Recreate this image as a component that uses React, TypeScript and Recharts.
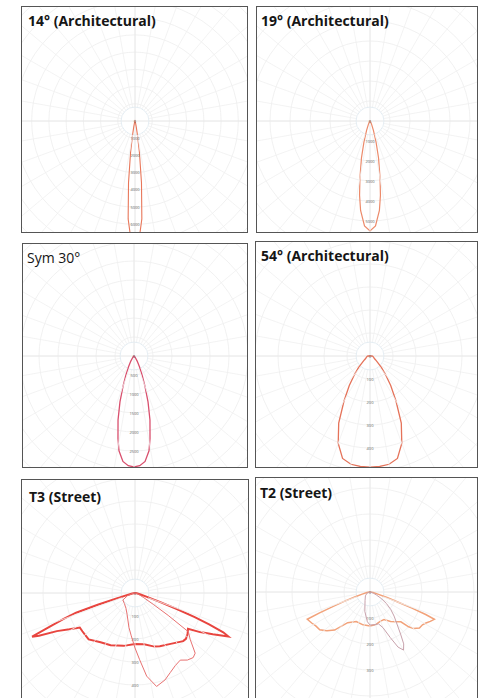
import React from 'react';
import { RadarChart, Radar, PolarGrid, PolarAngleAxis, PolarRadiusAxis } from 'recharts';

// gamma in degrees: 0 = straight down, negative = left, positive = right; values in cd/klm

const beam14Angles = [-90, -30, -20, -15, -12, -10, -8, -6, -4, -2, 0, 2, 4, 6, 8, 10, 12, 15, 20, 30, 90];
const beam14Values = [0, 0, 30, 115, 350, 815, 1860, 3600, 5700, 6860, 7270, 6860, 5700, 3600, 1860, 815, 350, 115, 30, 0, 0];
const beam14Ticks = [0, 1000, 2000, 3000, 4000, 5000, 6000, 7000, 8000, 9000];

const beam19Angles = [-90, -40, -30, -25, -20, -16, -13, -10, -8, -6, -3, 0, 3, 6, 8, 10, 13, 16, 20, 25, 30, 40, 90];
const beam19Values = [0, 0, 75, 200, 500, 1100, 1900, 2900, 3750, 4500, 5250, 5500, 5250, 4500, 3750, 2900, 1900, 1100, 500, 200, 75, 0, 0];
const beam19Ticks = [0, 1000, 2000, 3000, 4000, 5000, 6000, 7000, 8000];

const sym30Angles = [-90, -60, -50, -40, -32, -27, -23, -20, -17, -14, -11, -9, -6, -3, 0, 3, 6, 9, 11, 14, 17, 20, 23, 27, 32, 40, 50, 60, 90];
const sym30Values = [0, 0, 13, 53, 158, 316, 552, 842, 1263, 1737, 2210, 2525, 2790, 2890, 2920, 2890, 2790, 2525, 2210, 1737, 1263, 842, 552, 316, 158, 53, 13, 0, 0];
const sym30Ticks = [0, 500, 1000, 1500, 2000, 2500, 3000, 3500, 4000];

const beam54Angles = [-120, -100, -90, -80, -70, -60, -55, -50, -45, -40, -35, -30, -25, -20, -15, -10, -5, 0, 5, 10, 15, 20, 25, 30, 35, 40, 45, 50, 55, 60, 70, 80, 90, 100, 120];
const beam54Values = [0, 4, 9, 13, 17, 22, 30, 43, 70, 104, 157, 226, 322, 404, 461, 478, 482, 483, 482, 478, 461, 404, 322, 226, 157, 104, 70, 43, 30, 22, 17, 13, 9, 4, 0];
const beam54Ticks = [0, 100, 200, 300, 400, 500, 600, 700];

// T3 street: C0-C180 plane (thick) and C90-C270 plane (thin)
const t3MainAngles = [-90, -80, -76, -73.5, -72.5, -71.5, -70, -68.5, -67, -66, -64, -61, -58, -54, -50, -45, -35, -25, -12, 0, 10, 20, 25, 35, 45, 48, 52, 56, 59, 62, 65, 66, 67, 68, 69, 70, 72, 75, 80, 90];
const t3MainValues = [0, 12, 30, 80, 170, 270, 330, 396, 486, 457, 378, 326, 283, 283, 283, 285, 261, 251, 235, 222, 226, 248, 255, 270, 296, 298, 290, 278, 330, 383, 448, 420, 350, 280, 200, 120, 55, 25, 8, 0];
const t3CrossAngles = [-90, -80, -70, -60, -45, -30, -20, -10, -5, 0, 4, 8, 13, 19, 24, 29, 34, 38, 42, 45, 50, 54, 56, 58, 62, 70, 80, 90];
const t3CrossValues = [0, 9, 35, 61, 65, 78, 100, 152, 187, 239, 291, 365, 417, 400, 378, 361, 352, 370, 378, 370, 313, 287, 174, 96, 43, 17, 4, 0];
const t3Ticks = [0, 100, 200, 300, 400, 500, 600, 700];

// T2 street
const t2MainAngles = [-90, -80, -75, -72, -70, -68.5, -67.5, -66.5, -62, -58, -53, -48, -43, -36, -25, -12, 0, 10, 14, 20, 27, 35, 42, 46, 48, 50, 54, 58, 61, 64, 67, 68, 69, 70, 72, 75, 80, 90];
const t2MainValues = [0, 12, 31, 62, 108, 154, 212, 263, 254, 246, 242, 223, 200, 146, 125, 129, 131, 127, 123, 119, 119, 138, 154, 165, 200, 219, 235, 238, 246, 258, 269, 231, 173, 123, 69, 31, 12, 0];
const t2CrossAngles = [-90, -70, -50, -30, -15, -5, 0, 8, 15, 20, 24, 27, 30, 33, 36, 40, 45, 50, 55, 60, 65, 70, 80, 90];
const t2CrossValues = [0, 12, 23, 38, 77, 115, 127, 127, 127, 146, 192, 238, 258, 238, 200, 162, 131, 104, 77, 50, 27, 15, 4, 0];
const t2Ticks = [0, 100, 200, 300, 400, 500, 600];

const spokeTicks = Array.from({ length: 36 }, (_, i) => -180 + i * 10);

type Layer = { angles: number[]; values: number[]; color: string; width: number };

type PanelProps = {
  title: string;
  bold?: boolean;
  left: number;
  top: number;
  width: number;
  height: number;
  titleLeft: number;
  titleTop: number;
  cx: number;
  cy: number;
  outer: number;
  ticks: number[];
  layers: Layer[];
};

// tiny value labels on the downward axis, only the ones inside the frame
const makeRadiusTick = (limit: number) => (props: any) => {
  const { x, y, payload } = props;
  if (y + 4 > limit) return <g />;
  return (
    <text x={x} y={y + 1.5} textAnchor="middle" fontSize={4} fill="#666" fontFamily="Open Sans">
      {payload.value}
    </text>
  );
};

function Panel({ title, bold = true, left, top, width, height, titleLeft, titleTop, cx, cy, outer, ticks, layers }: PanelProps) {
  const w = width - 2;
  const h = height - 2;
  const max = ticks[ticks.length - 1];
  const visibleBottom = Math.min(h, 698 - top - 1);
  return (
    <div
      style={{
        position: 'absolute',
        left,
        top,
        width,
        height,
        boxSizing: 'border-box',
        border: '1px solid #555',
        background: '#fff',
        overflow: 'hidden',
      }}
    >
      {layers.map((layer, i) => {
        const rows = layer.angles.map((a, k) => ({ angle: a, value: layer.values[k] }));
        return (
          <div key={i} style={{ position: 'absolute', left: 0, top: 0 }}>
            <RadarChart
              width={w}
              height={h}
              data={rows}
              cx={cx}
              cy={cy}
              outerRadius={outer}
              startAngle={-270}
              endAngle={90}
              margin={{ top: 0, right: 0, bottom: 0, left: 0 }}
            >
              {i === 0 && <PolarGrid gridType="circle" radialLines={false} stroke="#eeeeee" strokeWidth={0.8} />}
              {i === 0 && (
                <PolarGrid gridType="circle" polarAngles={[0, 90, 180, 270]} polarRadius={[]} stroke="#e0e0e0" strokeWidth={0.8} />
              )}
              {i === 0 && (
                <PolarGrid gridType="circle" radialLines={false} polarAngles={[]} polarRadius={[14]} stroke="#dde8f0" strokeWidth={0.8} />
              )}
              <PolarAngleAxis
                dataKey="angle"
                type="number"
                domain={[-180, 180]}
                ticks={spokeTicks}
                tick={false}
                axisLine={false}
                tickLine={i === 0 ? { stroke: '#f0f0f0', strokeWidth: 0.8 } : false}
                orientation="inner"
                tickSize={outer - 14}
              />
              <PolarRadiusAxis
                type="number"
                angle={-90}
                domain={[0, max]}
                ticks={ticks}
                axisLine={false}
                tickLine={false}
                tick={i === 0 ? makeRadiusTick(visibleBottom) : false}
              />
              <Radar
                dataKey="value"
                stroke={layer.color}
                strokeWidth={layer.width}
                fill="none"
                fillOpacity={0}
                dot={false}
                isAnimationActive={false}
              />
            </RadarChart>
          </div>
        );
      })}
      <div
        style={{
          position: 'absolute',
          left: titleLeft,
          top: titleTop,
          fontFamily: '"Open Sans", sans-serif',
          fontSize: 14,
          lineHeight: 1,
          fontWeight: bold ? 700 : 400,
          color: '#151515',
          whiteSpace: 'nowrap',
        }}
      >
        {title}
      </div>
    </div>
  );
}

export default function App() {
  return (
    <div style={{ position: 'absolute', left: 0, top: 0, width: 478, height: 698, background: '#fff', overflow: 'hidden' }}>
      <Panel
        title="14° (Architectural)"
        left={21} top={6} width={227} height={227}
        titleLeft={6} titleTop={7}
        cx={113} cy={114} outer={155} ticks={beam14Ticks}
        layers={[{ angles: beam14Angles, values: beam14Values, color: '#e8775a', width: 1.1 }]}
      />
      <Panel
        title="19° (Architectural)"
        left={256} top={6} width={222} height={227}
        titleLeft={4} titleTop={7}
        cx={113} cy={114} outer={160} ticks={beam19Ticks}
        layers={[{ angles: beam19Angles, values: beam19Values, color: '#ec8a6a', width: 1.2 }]}
      />
      <Panel
        title="Sym 30°"
        bold={false}
        left={22} top={243} width={226} height={225}
        titleLeft={4} titleTop={7}
        cx={111} cy={112} outer={152} ticks={sym30Ticks}
        layers={[{ angles: sym30Angles, values: sym30Values, color: '#d9506e', width: 1.3 }]}
      />
      <Panel
        title="54° (Architectural)"
        left={255} top={241} width={223} height={227}
        titleLeft={5} titleTop={7}
        cx={114} cy={114} outer={161} ticks={beam54Ticks}
        layers={[{ angles: beam54Angles, values: beam54Values, color: '#e5735a', width: 1.3 }]}
      />
      <Panel
        title="T3 (Street)"
        left={21} top={479} width={228} height={232}
        titleLeft={7} titleTop={10}
        cx={113} cy={113} outer={161} ticks={t3Ticks}
        layers={[
          { angles: t3MainAngles, values: t3MainValues, color: '#e8453f', width: 2 },
          { angles: t3CrossAngles, values: t3CrossValues, color: '#e87272', width: 1 },
        ]}
      />
      <Panel
        title="T2 (Street)"
        left={255} top={477} width={223} height={234}
        titleLeft={4} titleTop={8}
        cx={114} cy={114} outer={156} ticks={t2Ticks}
        layers={[
          { angles: t2MainAngles, values: t2MainValues, color: '#f2a27a', width: 1.5 },
          { angles: t2CrossAngles, values: t2CrossValues, color: '#c8a2ac', width: 1 },
        ]}
      />
    </div>
  );
}
